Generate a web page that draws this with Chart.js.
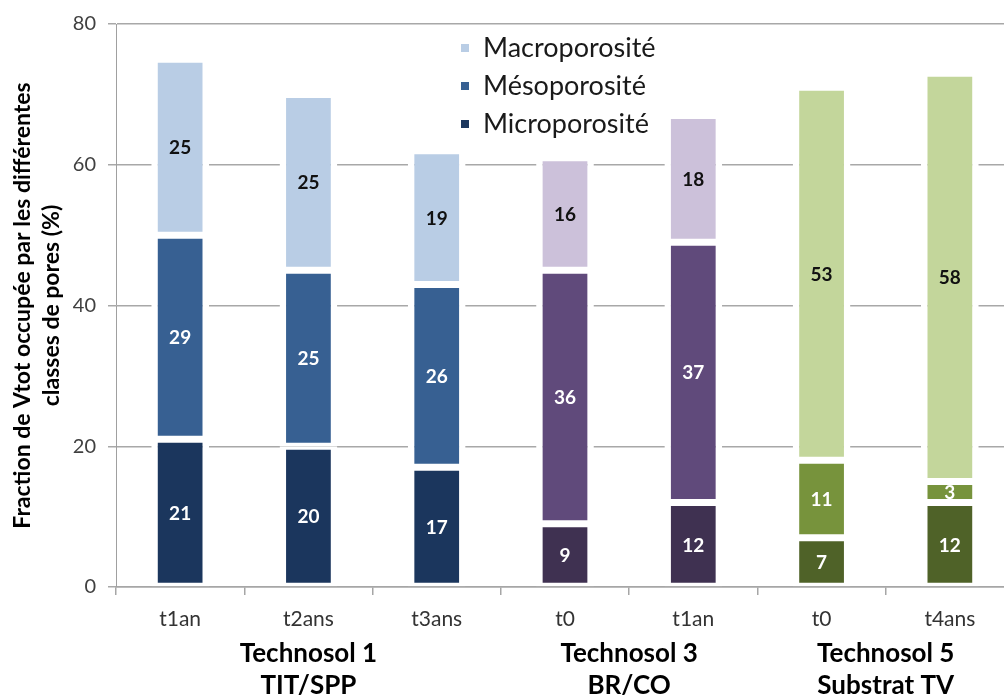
<!DOCTYPE html>
<html>
<head>
<meta charset="utf-8">
<script src="https://cdn.jsdelivr.net/npm/chart.js@4.4.1/dist/chart.umd.min.js"></script>
<style>
  html, body { margin: 0; padding: 0; background: #fff; overflow: hidden; }
  #wrap { width: 1004px; height: 698px; overflow: hidden; }
</style>
</head>
<body>
<div id="wrap"><canvas id="chart" width="1016" height="698"></canvas></div>
<script>
const categories = ["t1an", "t2ans", "t3ans", "t0", "t1an", "t0", "t4ans"];
const micro = [21, 20, 17, 9, 12, 7, 12];
const meso = [29, 25, 26, 36, 37, 11, 3];
const macro = [25, 25, 19, 16, 18, 53, 58];
const seriesNames = ["Microporosité", "Mésoporosité", "Macroporosité"];
const groupNames = [["Technosol 1", "TIT/SPP"], ["Technosol 3", "BR/CO"], ["Technosol 5", "Substrat TV"]];
const groupFirst = [1, 3, 5];
const groupLast = [1, 4, 6];
const yTitle = ["Fraction de Vtot occupée par les différentes", "classes de pores (%)"];

// which technosol each bar belongs to
const barGroup = [0, 0, 0, 1, 1, 2, 2];
const microColors = ["#1b365d", "#3f3151", "#4f6228"];
const mesoColors = ["#376092", "#604a7b", "#77933c"];
const macroColors = ["#b9cde5", "#ccc1da", "#c3d69b"];

function colorsFor(pal) {
    return barGroup.map((g) => pal[g]);
}

function makeSet(label, data, pal, labelColor) {
    return {
        label: label,
        data: data,
        backgroundColor: colorsFor(pal),
        legendColor: pal[0],
        labelColor: labelColor,
        borderColor: "#ffffff",
        borderWidth: { top: 3.5, bottom: 3.5, left: 6.5, right: 6.5 },
        borderSkipped: false,
        inflateAmount: 0,
        categoryPercentage: 1,
        barPercentage: 0.45
    };
}

const segLabels = {
    id: "segLabels",
    afterDatasetsDraw(chart) {
        const ctx = chart.ctx;
        ctx.save();
        ctx.font = "bold 19px Lato";
        ctx.textAlign = "center";
        ctx.textBaseline = "middle";
        chart.data.datasets.forEach((ds, di) => {
            chart.getDatasetMeta(di).data.forEach((bar, i) => {
                ctx.fillStyle = ds.labelColor;
                ctx.fillText(String(ds.data[i]), bar.x, (bar.y + bar.base) / 2 + 1);
            });
        });
        ctx.restore();
    }
};

const sideLegend = {
    id: "sideLegend",
    afterDraw(chart) {
        const ctx = chart.ctx;
        const top = chart.chartArea.top;
        ctx.save();
        ctx.font = "27px Lato";
        ctx.textBaseline = "middle";
        ctx.textAlign = "left";
        // drawn top to bottom: macro, meso, micro
        for (let k = 0; k < 3; k++) {
            const ds = chart.data.datasets[2 - k];
            const y = top + 24 + k * 38;
            ctx.fillStyle = ds.legendColor;
            ctx.fillRect(461, y - 4, 8, 8);
            ctx.fillStyle = "#1a1a1a";
            ctx.fillText(ds.label, 483, y);
        }
        ctx.restore();
    }
};

const groupLabels = {
    id: "groupLabels",
    afterDraw(chart) {
        const ctx = chart.ctx;
        const xs = chart.scales.x;
        const bottom = chart.chartArea.bottom;
        ctx.save();
        ctx.font = "bold 26px Lato";
        ctx.fillStyle = "#000";
        ctx.textAlign = "center";
        ctx.textBaseline = "alphabetic";
        groupNames.forEach((lines, g) => {
            const x = (xs.getPixelForValue(groupFirst[g]) + xs.getPixelForValue(groupLast[g])) / 2;
            ctx.fillText(lines[0], x, bottom + 75);
            ctx.fillText(lines[1], x, bottom + 107);
        });
        ctx.restore();
    }
};

new Chart(document.getElementById("chart"), {
    type: "bar",
    data: {
        labels: categories,
        datasets: [
            makeSet(seriesNames[0], micro, microColors, "#ffffff"),
            makeSet(seriesNames[1], meso, mesoColors, "#ffffff"),
            makeSet(seriesNames[2], macro, macroColors, "#111111")
        ]
    },
    options: {
        responsive: false,
        animation: false,
        layout: { padding: { top: 24, right: 2, left: 0, bottom: 0 } },
        plugins: { legend: { display: false }, tooltip: { enabled: false } },
        scales: {
            x: {
                stacked: true,
                grid: { display: true, drawOnChartArea: false, drawTicks: true, tickLength: 8, color: "#a6a6a6", lineWidth: 1.5, offset: true },
                border: { color: "#a6a6a6", width: 1.5 },
                ticks: { color: "#333333", font: { family: "Lato", size: 21 }, padding: 12, maxRotation: 0, autoSkip: false },
                afterFit(scale) { scale.height = 111; }
            },
            y: {
                stacked: true,
                min: 0,
                max: 80,
                ticks: { stepSize: 20, color: "#404040", font: { family: "Lato", size: 20 }, padding: 12 },
                grid: { color: "#a8a8a8", lineWidth: 1.5, tickLength: 8 },
                border: { color: "#a0a0a0", width: 1 },
                title: {
                    display: true,
                    text: yTitle,
                    color: "#000",
                    font: { family: "Lato", size: 23, weight: "bold", lineHeight: 1.26 },
                    padding: { top: 8, bottom: 0 }
                },
                afterFit(scale) { scale.width = 116; }
            }
        }
    },
    plugins: [segLabels, sideLegend, groupLabels]
});
</script>
</body>
</html>
